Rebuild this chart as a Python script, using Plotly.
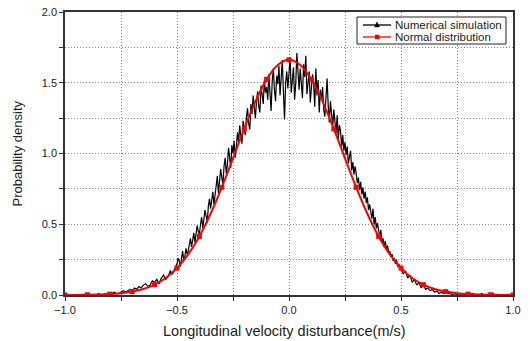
import plotly.graph_objects as go

# Numerical simulation (black): left tail (step 0.01), core (step 0.005), right tail (step 0.01)
sim_left_x = [round(-0.86 + 0.01 * i, 3) for i in range(36)]
sim_left_y = [0.00, 0.01, 0.00, 0.00, 0.01, 0.00, 0.01, 0.01, 0.02, 0.01,
              0.01, 0.02, 0.03, 0.02, 0.03, 0.04, 0.03, 0.05, 0.04, 0.06,
              0.05, 0.07, 0.08, 0.06, 0.07, 0.10, 0.09, 0.11, 0.08, 0.12,
              0.14, 0.11, 0.13, 0.17, 0.15, 0.19]
sim_core_x = [round(-0.5 + 0.005 * i, 4) for i in range(201)]
sim_core_y = [
    0.22, 0.26, 0.24, 0.20, 0.28, 0.31, 0.25, 0.27, 0.33, 0.29,
    0.31, 0.36, 0.40, 0.34, 0.38, 0.44, 0.37, 0.42, 0.49, 0.45,
    0.43, 0.50, 0.55, 0.47, 0.52, 0.60, 0.56, 0.51, 0.63, 0.68,
    0.61, 0.66, 0.73, 0.64, 0.70, 0.78, 0.84, 0.72, 0.80, 0.89,
    0.83, 0.78, 0.91, 0.97, 0.86, 0.92, 1.04, 0.95, 0.90, 1.06,
    1.00, 1.09, 0.97, 1.05, 1.15, 1.08, 1.20, 1.12, 1.07, 1.23,
    1.18, 1.13, 1.26, 1.32, 1.21, 1.17, 1.35, 1.28, 1.41, 1.30,
    1.25, 1.37, 1.44, 1.33, 1.29, 1.48, 1.40, 1.35, 1.52, 1.43,
    1.47, 1.38, 1.56, 1.42, 1.30, 1.51, 1.60, 1.45, 1.37, 1.55,
    1.49, 1.62, 1.41, 1.53, 1.66, 1.44, 1.24, 1.50, 1.58, 1.46,
    1.55, 1.68, 1.43, 1.52, 1.61, 1.38, 1.49, 1.71, 1.57, 1.45,
    1.60, 1.47, 1.39, 1.63, 1.54, 1.69, 1.42, 1.50, 1.58, 1.36,
    1.44, 1.56, 1.49, 1.33, 1.60, 1.41, 1.52, 1.29, 1.45, 1.38,
    1.47, 1.31, 1.26, 1.42, 1.53, 1.34, 1.22, 1.37, 1.28, 1.19,
    1.31, 1.24, 1.14, 1.27, 1.10, 1.20, 1.16, 1.05, 1.13, 1.02,
    1.08, 0.99, 1.05, 0.93, 0.97, 1.02, 0.88, 0.94, 0.85, 0.91,
    0.86, 0.79, 0.83, 0.74, 0.80, 0.71, 0.76, 0.68, 0.73, 0.65,
    0.69, 0.60, 0.64, 0.57, 0.54, 0.61, 0.50, 0.55, 0.47, 0.51,
    0.44, 0.41, 0.46, 0.37, 0.40, 0.34, 0.38, 0.32, 0.35, 0.30,
    0.31, 0.27, 0.29, 0.24, 0.26, 0.22, 0.25, 0.20, 0.22, 0.19,
    0.18]
sim_right_x = [round(0.51 + 0.01 * i, 3) for i in range(42)]
sim_right_y = [0.15, 0.17, 0.12, 0.14, 0.09, 0.11, 0.07, 0.09, 0.05, 0.07,
               0.04, 0.05, 0.03, 0.04, 0.02, 0.03, 0.01, 0.02, 0.01, 0.02,
               0.01, 0.01, 0.00, 0.01, 0.00, 0.01, 0.00, 0.00, 0.01, 0.00,
               0.00, 0.01, 0.00, 0.00, 0.00, 0.01, 0.00, 0.00, 0.00, 0.00,
               0.01, 0.00]

# Normal distribution (red), step 0.05
norm_x = [round(-1.0 + 0.05 * i, 3) for i in range(41)]
norm_y = [0.0003, 0.0007, 0.0015, 0.0031, 0.0064, 0.013, 0.024, 0.042, 0.073, 0.120,
          0.190, 0.287, 0.414, 0.574, 0.761, 0.966, 1.174, 1.367, 1.524, 1.626,
          1.662,
          1.626, 1.524, 1.367, 1.174, 0.966, 0.761, 0.574, 0.414, 0.287, 0.190,
          0.120, 0.073, 0.042, 0.024, 0.013, 0.0064, 0.0031, 0.0015, 0.0007, 0.0003]

x_ticks = [-1.0, -0.5, 0.0, 0.5, 1.0]
y_ticks = [0.0, 0.5, 1.0, 1.5, 2.0]
series_names = ["Numerical simulation", "Normal distribution"]
series_colors = ["black", "red"]

sim_x = sim_left_x + sim_core_x + sim_right_x
sim_y = sim_left_y + sim_core_y + sim_right_y

FONT = "Arial, Liberation Sans, sans-serif"
W, H = 530, 341
ML, MR, MT, MB = 65, 17, 12, 46
PW, PH = W - ML - MR, H - MT - MB


def px(xp):
    return (xp - ML) / PW


def py(yp):
    return (H - MB - yp) / PH


fig = go.Figure()
fig.add_trace(go.Scatter(x=sim_x, y=sim_y, mode="lines", name=series_names[0],
                         line=dict(color=series_colors[0], width=1.2), showlegend=False))
fig.add_trace(go.Scatter(x=norm_x, y=norm_y, mode="lines", line_shape="spline",
                         name=series_names[1],
                         line=dict(color=series_colors[1], width=2), showlegend=False))
fig.add_trace(go.Scatter(x=norm_x[::2], y=norm_y[::2], mode="markers",
                         marker=dict(color=series_colors[1], symbol="square", size=5),
                         showlegend=False))

grid_dash = "1px,2px"
axis_common = dict(
    showline=True, linecolor="#333333", linewidth=1.5, mirror=True,
    ticks="outside", ticklen=4, tickwidth=1, tickcolor="#333333",
    showgrid=True, gridcolor="#8c8c8c", griddash=grid_dash, gridwidth=1,
    zeroline=False, tickformat=".1f", automargin=False,
    tickfont=dict(family=FONT, size=11, color="#222222"),
    minor=dict(dtick=0.25, ticks="outside", ticklen=4, tickcolor="#333333",
               showgrid=True, gridcolor="#8c8c8c", griddash=grid_dash, gridwidth=1),
)

fig.update_xaxes(range=[-1.0, 1.0], tickvals=x_ticks, **axis_common)
fig.update_yaxes(range=[0.0, 2.0], tickvals=y_ticks, **axis_common)

# manual legend (box, sample lines, marker glyphs, text)
shapes = [dict(type="rect", xref="paper", yref="paper",
               x0=px(357), x1=px(506), y0=py(44), y1=py(17),
               line=dict(color="#222222", width=1), fillcolor="white", layer="above")]
annotations = []
rows = [25, 37]
for i, (name, col) in enumerate(zip(series_names, series_colors)):
    yy = rows[i]
    shapes.append(dict(type="line", xref="paper", yref="paper",
                       x0=px(363), x1=px(391), y0=py(yy), y1=py(yy),
                       line=dict(color=col, width=1.3), layer="above"))
    if i == 0:
        path = "M {a},{b} L {c},{b} L {d},{e} Z".format(
            a=px(374.5), c=px(379.5), b=py(yy + 2), d=px(377), e=py(yy - 3))
        shapes.append(dict(type="path", xref="paper", yref="paper", path=path,
                           fillcolor=col, line=dict(color=col, width=0.5), layer="above"))
    else:
        shapes.append(dict(type="rect", xref="paper", yref="paper",
                           x0=px(375), x1=px(379.5), y0=py(yy + 2.3), y1=py(yy - 2.3),
                           fillcolor=col, line=dict(color=col, width=0), layer="above"))
    annotations.append(dict(text=name, xref="paper", yref="paper",
                            x=px(393), y=py(yy), xanchor="left", yanchor="middle",
                            showarrow=False,
                            font=dict(family=FONT, size=11.5, color="#222222")))

annotations += [
    dict(text="Longitudinal velocity disturbance(m/s)", xref="paper", yref="paper",
         x=0.49, y=-0.127, xanchor="center", yanchor="middle", showarrow=False,
         font=dict(family=FONT, size=14.5, color="#222222")),
    dict(text="Probability density", xref="paper", yref="paper",
         x=-0.105, y=0.5, xanchor="center", yanchor="middle", showarrow=False,
         textangle=-90, font=dict(family=FONT, size=13, color="#222222")),
]

fig.update_layout(
    width=W, height=H,
    margin=dict(l=ML, r=MR, t=MT, b=MB, autoexpand=False),
    paper_bgcolor="white", plot_bgcolor="white",
    showlegend=False,
    shapes=shapes,
    annotations=annotations,
)

fig.write_html("out.html")
